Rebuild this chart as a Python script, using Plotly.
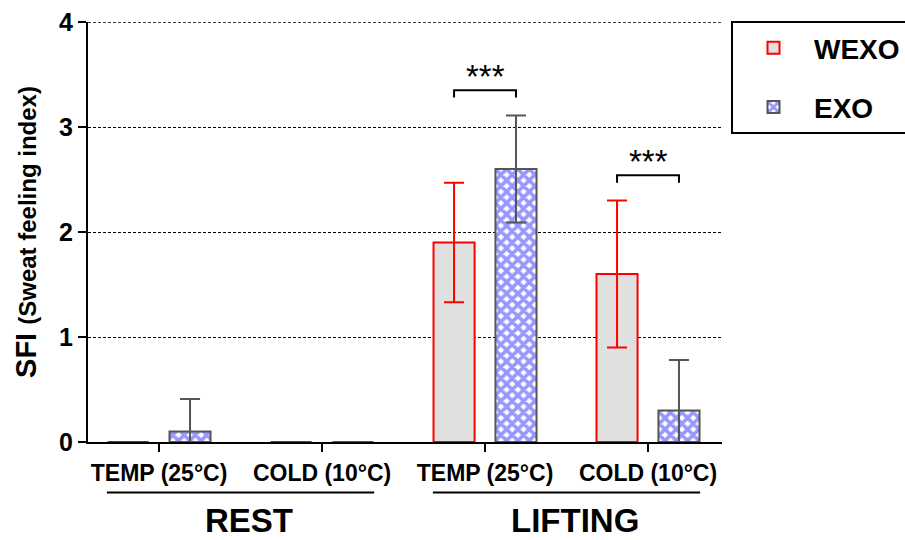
import plotly.graph_objects as go

# ---- data ----
categories = ["TEMP (25°C)", "COLD (10°C)", "TEMP (25°C)", "COLD (10°C)"]
groups = ["REST", "LIFTING"]
wexo_mean = [0.0, 0.0, 1.9, 1.6]
wexo_sd = [0.0, 0.0, 0.57, 0.70]
exo_mean = [0.1, 0.0, 2.6, 0.3]
exo_sd = [0.31, 0.0, 0.51, 0.48]
sig_pairs = [2, 3]          # category index with significance marker
sig_text = ["***", "***"]
y_ticks = [0, 1, 2, 3, 4]

FONT = "Arial, Liberation Sans, sans-serif"
xpos = list(range(len(categories)))

fig = go.Figure()
fig.add_trace(go.Bar(
    x=xpos, y=wexo_mean, name="<b>WEXO</b>", legendgroup="a",
    marker=dict(color="#e0e0e0", line=dict(color="#ff0000", width=2)),
    error_y=dict(type="data", array=wexo_sd, color="#ff0000", thickness=2, width=10),
))
fig.add_trace(go.Bar(
    x=xpos, y=exo_mean, name="<b>EXO</b>", legendgroup="b",
    marker=dict(color="white", line=dict(color="#555555", width=2),
                pattern=dict(shape="x", fgcolor="#3030ff", bgcolor="white", size=8, solidity=0.7)),
    error_y=dict(type="data", array=exo_sd,
                 arrayminus=[min(m, s) for m, s in zip(exo_mean, exo_sd)],
                 color="#555555", thickness=2, width=10),
))

shapes = []
annotations = []
off = 0.19
for i, t in zip(sig_pairs, sig_text):
    top = max(wexo_mean[i] + wexo_sd[i], exo_mean[i] + exo_sd[i]) + 0.24
    shapes.append(dict(type="path", xref="x", yref="y",
                       path=f"M {i-off} {top-0.07} L {i-off} {top} L {i+off} {top} L {i+off} {top-0.07}",
                       line=dict(color="black", width=2)))
    annotations.append(dict(x=i, y=top, xref="x", yref="y", text=t, showarrow=False,
                            yanchor="bottom", yshift=-7, font=dict(family=FONT, size=33, color="black")))

# top gridline (at the upper range edge)
shapes.append(dict(type="line", xref="paper", yref="y", x0=0, x1=1, y0=y_ticks[-1], y1=y_ticks[-1],
                   line=dict(color="black", width=1.5, dash="3px,2px"), layer="below"))

for g, name in enumerate(groups):
    c = 2 * g + 0.5
    shapes.append(dict(type="line", xref="x", yref="paper", x0=c - 0.82, x1=c + 0.82,
                       y0=-0.12, y1=-0.12, line=dict(color="black", width=2)))
    annotations.append(dict(x=c, y=-98 / 420, xref="x", yref="paper", text=f"<b>{name}</b>",
                            showarrow=False, xshift=8, yanchor="bottom", borderpad=0,
                            font=dict(family=FONT, size=33, color="black")))

fig.update_layout(
    width=905, height=540,
    margin=dict(l=88, r=183, t=22, b=98, autoexpand=False),
    paper_bgcolor="white", plot_bgcolor="white",
    barmode="group", bargap=0.24, bargroupgap=0.337,
    font=dict(family=FONT, color="black"),
    shapes=shapes, annotations=annotations,
    legend=dict(x=1.0142, y=1.0024, xanchor="left", yanchor="top",
                bordercolor="black", borderwidth=2, bgcolor="white",
                font=dict(family=FONT, size=28, color="black"),
                tracegroupgap=20, itemwidth=71, traceorder="grouped"),
    xaxis=dict(range=[-0.436, 3.454], tickmode="array", tickvals=xpos,
               ticktext=[f"<b>{c}</b>" for c in categories],
               tickfont=dict(family=FONT, size=23, color="black"),
               ticks="outside", ticklen=8, tickwidth=2, tickcolor="black",
               showline=True, linewidth=2, linecolor="black",
               showgrid=False, zeroline=False, ticklabelstandoff=1),
    yaxis=dict(range=[0, 4], tickmode="array", tickvals=y_ticks,
               ticktext=[f"<b>{v}</b>" for v in y_ticks],
               tickfont=dict(family=FONT, size=25, color="black"),
               ticks="outside", ticklen=8, tickwidth=2, tickcolor="black",
               showline=True, linewidth=2, linecolor="black",
               showgrid=True, gridcolor="black", gridwidth=1, griddash="3px,2px",
               zeroline=False,
               title=dict(text="<b>SFI </b><b><span style='font-size:24px'>(Sweat feeling index)</span></b>",
                          font=dict(family=FONT, size=29, color="black"), standoff=14)),
)

fig.write_html("out.html", config={"displayModeBar": False},
               post_script="document.body.style.margin='0';")
